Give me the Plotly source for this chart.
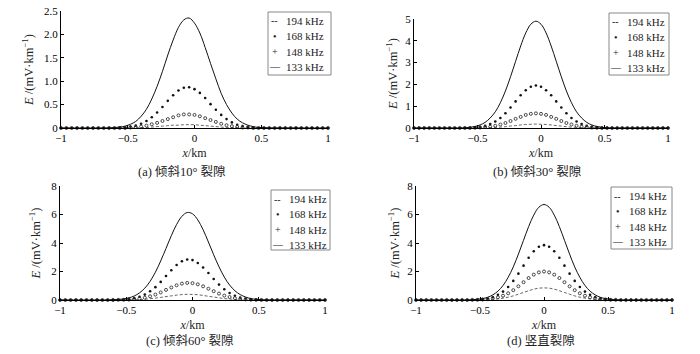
import plotly.graph_objects as go

# ---------------- data ----------------
X = [-1.00, -0.96, -0.92, -0.88, -0.84, -0.80, -0.76, -0.72, -0.68, -0.64,
     -0.60, -0.56, -0.52, -0.48, -0.44, -0.40, -0.36, -0.32, -0.28, -0.24,
     -0.20, -0.16, -0.12, -0.08, -0.04, 0.00, 0.04, 0.08, 0.12, 0.16,
     0.20, 0.24, 0.28, 0.32, 0.36, 0.40, 0.44, 0.48, 0.52, 0.56,
     0.60, 0.64, 0.68, 0.72, 0.76, 0.80, 0.84, 0.88, 0.92, 0.96, 1.00]

FREQS = ["194 kHz", "168 kHz", "148 kHz", "133 kHz"]

# (a) tilt 10 deg
A194 = [0, 0, 0, 0, 0, 0, 0, 0, 0, 0,
        0, 0, 0, 0, 0, 0.01, 0.01, 0.02, 0.03, 0.04,
        0.05, 0.06, 0.06, 0.07, 0.07, 0.07, 0.06, 0.05, 0.04, 0.03,
        0.02, 0.01, 0.01, 0.01, 0, 0, 0, 0, 0, 0,
        0, 0, 0, 0, 0, 0, 0, 0, 0, 0, 0]
A168 = [0, 0, 0, 0, 0, 0, 0, 0, 0, 0,
        0, 0.01, 0.01, 0.03, 0.05, 0.09, 0.15, 0.23, 0.33, 0.45,
        0.58, 0.70, 0.80, 0.86, 0.87, 0.83, 0.75, 0.64, 0.51, 0.39,
        0.28, 0.19, 0.12, 0.07, 0.04, 0.02, 0.01, 0, 0, 0,
        0, 0, 0, 0, 0, 0, 0, 0, 0, 0, 0]
A148 = [0, 0, 0, 0, 0, 0, 0, 0, 0, 0,
        0, 0, 0, 0.01, 0.02, 0.03, 0.05, 0.08, 0.11, 0.15,
        0.19, 0.23, 0.27, 0.29, 0.29, 0.28, 0.25, 0.21, 0.17, 0.13,
        0.09, 0.06, 0.04, 0.02, 0.01, 0.01, 0, 0, 0, 0,
        0, 0, 0, 0, 0, 0, 0, 0, 0, 0, 0]
A133 = [0, 0, 0, 0, 0, 0, 0, 0, 0, 0,
        0.01, 0.02, 0.04, 0.08, 0.14, 0.25, 0.40, 0.62, 0.89, 1.21,
        1.56, 1.88, 2.15, 2.31, 2.35, 2.24, 2.03, 1.72, 1.38, 1.05,
        0.74, 0.50, 0.32, 0.19, 0.11, 0.06, 0.03, 0.01, 0.01, 0,
        0, 0, 0, 0, 0, 0, 0, 0, 0, 0, 0]

# (b) tilt 30 deg
B194 = [0, 0, 0, 0, 0, 0, 0, 0, 0, 0,
        0, 0, 0, 0.01, 0.01, 0.02, 0.03, 0.04, 0.06, 0.09,
        0.11, 0.14, 0.16, 0.17, 0.18, 0.17, 0.16, 0.14, 0.11, 0.09,
        0.06, 0.04, 0.03, 0.02, 0.01, 0.01, 0, 0, 0, 0,
        0, 0, 0, 0, 0, 0, 0, 0, 0, 0, 0]
B168 = [0, 0, 0, 0, 0, 0, 0, 0, 0, 0,
        0.01, 0.01, 0.03, 0.06, 0.10, 0.18, 0.30, 0.46, 0.68, 0.94,
        1.22, 1.50, 1.73, 1.89, 1.95, 1.89, 1.73, 1.50, 1.22, 0.94,
        0.68, 0.46, 0.30, 0.18, 0.10, 0.06, 0.03, 0.01, 0.01, 0,
        0, 0, 0, 0, 0, 0, 0, 0, 0, 0, 0]
B148 = [0, 0, 0, 0, 0, 0, 0, 0, 0, 0,
        0, 0, 0.01, 0.02, 0.04, 0.06, 0.10, 0.16, 0.23, 0.32,
        0.42, 0.51, 0.60, 0.65, 0.67, 0.65, 0.60, 0.51, 0.42, 0.32,
        0.23, 0.16, 0.10, 0.06, 0.04, 0.02, 0.01, 0, 0, 0,
        0, 0, 0, 0, 0, 0, 0, 0, 0, 0, 0]
B133 = [0, 0, 0, 0, 0, 0, 0, 0, 0, 0,
        0.01, 0.03, 0.07, 0.14, 0.26, 0.46, 0.74, 1.16, 1.70, 2.35,
        3.06, 3.76, 4.36, 4.76, 4.90, 4.76, 4.36, 3.76, 3.06, 2.35,
        1.70, 1.16, 0.74, 0.46, 0.26, 0.14, 0.07, 0.03, 0.01, 0,
        0, 0, 0, 0, 0, 0, 0, 0, 0, 0, 0]

# (c) tilt 60 deg
C194 = [0, 0, 0, 0, 0, 0, 0, 0, 0, 0,
        0, 0, 0, 0.01, 0.02, 0.03, 0.05, 0.09, 0.13, 0.18,
        0.24, 0.29, 0.34, 0.38, 0.40, 0.39, 0.37, 0.32, 0.26, 0.21,
        0.15, 0.10, 0.07, 0.04, 0.02, 0.01, 0.01, 0, 0, 0,
        0, 0, 0, 0, 0, 0, 0, 0, 0, 0, 0]
C168 = [0, 0, 0, 0, 0, 0, 0, 0, 0, 0,
        0.01, 0.02, 0.03, 0.07, 0.13, 0.23, 0.38, 0.61, 0.90, 1.27,
        1.68, 2.09, 2.46, 2.72, 2.84, 2.80, 2.60, 2.28, 1.89, 1.47,
        1.08, 0.75, 0.49, 0.30, 0.17, 0.10, 0.05, 0.02, 0.01, 0,
        0, 0, 0, 0, 0, 0, 0, 0, 0, 0, 0]
C148 = [0, 0, 0, 0, 0, 0, 0, 0, 0, 0,
        0, 0.01, 0.01, 0.03, 0.06, 0.10, 0.16, 0.26, 0.38, 0.53,
        0.71, 0.88, 1.03, 1.15, 1.20, 1.18, 1.10, 0.96, 0.79, 0.62,
        0.45, 0.31, 0.21, 0.13, 0.07, 0.04, 0.02, 0.01, 0, 0,
        0, 0, 0, 0, 0, 0, 0, 0, 0, 0, 0]
C133 = [0, 0, 0, 0, 0, 0, 0, 0, 0, 0,
        0.02, 0.04, 0.07, 0.15, 0.28, 0.50, 0.83, 1.31, 1.95, 2.74,
        3.62, 4.51, 5.30, 5.87, 6.14, 6.05, 5.62, 4.93, 4.07, 3.17,
        2.33, 1.61, 1.05, 0.65, 0.38, 0.21, 0.10, 0.05, 0.02, 0.01,
        0, 0, 0, 0, 0, 0, 0, 0, 0, 0, 0]

# (d) vertical
D194 = [0, 0, 0, 0, 0, 0, 0, 0, 0, 0,
        0, 0, 0.01, 0.01, 0.02, 0.05, 0.08, 0.13, 0.20, 0.29,
        0.41, 0.53, 0.65, 0.76, 0.83, 0.85, 0.83, 0.76, 0.65, 0.53,
        0.41, 0.29, 0.20, 0.13, 0.08, 0.05, 0.02, 0.01, 0.01, 0,
        0, 0, 0, 0, 0, 0, 0, 0, 0, 0, 0]
D168 = [0, 0, 0, 0, 0, 0, 0, 0, 0, 0,
        0, 0.01, 0.03, 0.06, 0.11, 0.20, 0.36, 0.59, 0.91, 1.34,
        1.85, 2.41, 2.96, 3.42, 3.74, 3.85, 3.74, 3.42, 2.96, 2.41,
        1.85, 1.34, 0.91, 0.59, 0.36, 0.20, 0.11, 0.06, 0.03, 0.01,
        0, 0, 0, 0, 0, 0, 0, 0, 0, 0, 0]
D148 = [0, 0, 0, 0, 0, 0, 0, 0, 0, 0,
        0, 0.01, 0.01, 0.03, 0.06, 0.11, 0.19, 0.30, 0.47, 0.69,
        0.96, 1.25, 1.54, 1.78, 1.94, 2.00, 1.94, 1.78, 1.54, 1.25,
        0.96, 0.69, 0.47, 0.30, 0.19, 0.11, 0.06, 0.03, 0.01, 0.01,
        0, 0, 0, 0, 0, 0, 0, 0, 0, 0, 0]
D133 = [0, 0, 0, 0, 0, 0, 0, 0, 0, 0,
        0.01, 0.02, 0.05, 0.10, 0.19, 0.36, 0.62, 1.02, 1.59, 2.32,
        3.22, 4.19, 5.15, 5.96, 6.51, 6.70, 6.51, 5.96, 5.15, 4.19,
        3.22, 2.32, 1.59, 1.02, 0.62, 0.36, 0.19, 0.10, 0.05, 0.02,
        0.01, 0, 0, 0, 0, 0, 0, 0, 0, 0, 0]

PANELS = [
    dict(series=[A194, A168, A148, A133], ymax=2.5,
         yticks=[0, 0.5, 1.0, 1.5, 2.0, 2.5], ytext=["0", "0.5", "1.0", "1.5", "2.0", "2.5"],
         caption="(a) 倾斜10° 裂隙"),
    dict(series=[B194, B168, B148, B133], ymax=5,
         yticks=[0, 1, 2, 3, 4, 5], ytext=["0", "1", "2", "3", "4", "5"],
         caption="(b) 倾斜30° 裂隙"),
    dict(series=[C194, C168, C148, C133], ymax=8,
         yticks=[0, 2, 4, 6, 8], ytext=["0", "2", "4", "6", "8"],
         caption="(c) 倾斜60° 裂隙"),
    dict(series=[D194, D168, D148, D133], ymax=8,
         yticks=[0, 2, 4, 6, 8], ytext=["0", "2", "4", "6", "8"],
         caption="(d) 竖直裂隙"),
]
XTICKS = [-1, -0.5, 0, 0.5, 1]
XTEXT = ["\u22121", "\u22120.5", "0", "0.5", "1"]
LEGEND_SYMBOLS = ["--", "•", "+", "—"]

# ---------------- layout geometry (pixels) ----------------
W, H = 700, 354
BOX = [(61, 328, 11, 128), (414, 668, 19, 128), (60, 325, 186, 300), (416, 672, 186, 300)]
YSTAND = [7, 4, 7, 4]
CAPT = [(182, 172), (537, 172), (190, 341), (541, 341)]
LEG = [(268, 331, 12, 75), (609, 669, 13, 75), (271, 330, 190, 250), (611, 672, 187, 249)]

SERIF = "Liberation Serif, Times New Roman, serif"
CJK = "Liberation Serif, Noto Sans CJK SC, serif"


def px(x):
    return x / W


def py(y):
    return 1 - y / H


fig = go.Figure()
styles = [
    dict(mode="lines", line=dict(color="#555", width=0.9, dash="3px,2px", shape="spline")),
    dict(mode="markers", marker=dict(symbol="circle", size=2.6, color="#111")),
    dict(mode="markers", marker=dict(symbol="circle-open", size=3.0, color="#333", line=dict(width=0.9))),
    dict(mode="lines", line=dict(color="#111", width=1.0, shape="spline")),
]

layout = {}
annotations = []
shapes = []
for i, p in enumerate(PANELS):
    n = "" if i == 0 else str(i + 1)
    xa, ya = "x" + n, "y" + n
    for s, name, st in zip(p["series"], FREQS, styles):
        fig.add_trace(go.Scatter(x=X, y=s, name=name, xaxis=xa, yaxis=ya,
                                 showlegend=False, cliponaxis=False, **st))
    l, r, t, b = BOX[i]
    common = dict(showline=True, linecolor="black", linewidth=1, showgrid=False,
                  zeroline=False, ticks="inside", ticklen=3, tickcolor="black",
                  automargin=False,
                  tickfont=dict(family=SERIF, size=11, color="black"))
    layout["xaxis" + n] = dict(domain=[px(l), px(r)], range=[-1, 1], anchor=ya,
                               tickvals=XTICKS, ticktext=XTEXT,
                               title=dict(text="<i>x</i>/km", standoff=5,
                                          font=dict(family=SERIF, size=12, color="#222")),
                               **common)
    layout["yaxis" + n] = dict(domain=[py(b), py(t)], range=[0, p["ymax"]], anchor=xa,
                               tickvals=p["yticks"], ticktext=p["ytext"],
                               title=dict(text="<i>E</i> /(mV·km<sup>−1</sup>)", standoff=YSTAND[i],
                                          font=dict(family=SERIF, size=12.5, color="#222")),
                               **common)
    annotations.append(dict(x=px(CAPT[i][0]), y=py(CAPT[i][1]), xref="paper", yref="paper",
                            text=p["caption"], showarrow=False,
                            xanchor="center", yanchor="middle",
                            font=dict(family=CJK, size=12.5, color="#222")))
    # legend box
    ll, lr, lt, lb = LEG[i]
    shapes.append(dict(type="rect", xref="paper", yref="paper", x0=px(ll), x1=px(lr),
                       y0=py(lb), y1=py(lt), line=dict(color="#888", width=1),
                       fillcolor="white", layer="above"))
    for k, (sym, name) in enumerate(zip(LEGEND_SYMBOLS, FREQS)):
        yy = lt + 9 + k * 15.3
        annotations.append(dict(x=px(ll + 6.5), y=py(yy), xref="paper", yref="paper",
                                text=sym, showarrow=False, xanchor="center", yanchor="middle",
                                font=dict(family=SERIF, size=10, color="#222")))
        annotations.append(dict(x=px(ll + 16), y=py(yy), xref="paper", yref="paper",
                                text=name, showarrow=False, xanchor="left", yanchor="middle",
                                font=dict(family=SERIF, size=11, color="#222")))

fig.update_layout(width=W, height=H, margin=dict(l=0, r=0, t=0, b=0),
                  paper_bgcolor="white", plot_bgcolor="white",
                  annotations=annotations, shapes=shapes, showlegend=False, **layout)
fig.write_html("out.html")
